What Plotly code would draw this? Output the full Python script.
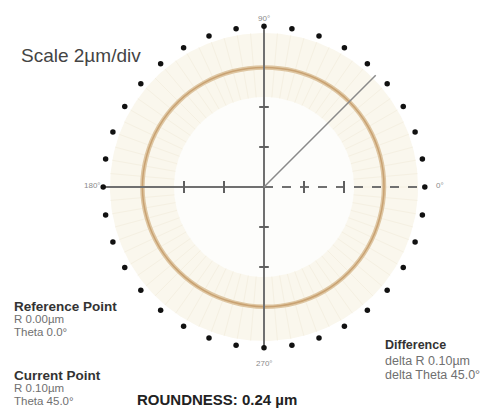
import numpy as np
import plotly.graph_objects as go

# ---- data ----
SCALE_UM_PER_DIV = 2.0
profile_theta_deg = [0, 15, 30, 45, 60, 75, 90, 105, 120, 135, 150, 165, 180,
                     195, 210, 225, 240, 255, 270, 285, 300, 315, 330, 345]
profile_r_um = [6.00, 6.01, 6.02, 6.03, 6.02, 6.00, 5.98, 5.99, 6.01, 6.04, 6.06, 6.07,
                6.08, 6.06, 6.03, 6.00, 5.98, 5.97, 5.99, 6.01, 6.02, 6.01, 6.00, 5.99]
marker_theta_deg = list(range(0, 360, 10))
marker_r_div = 4.02
axis_tick_divs = [-2, -1, 1, 2]
axis_end_labels = ["0°", "90°", "180°", "270°"]
current_theta_deg = 45.0
current_line_len_div = 3.95
band_r_div = (2.25, 3.85)

# ---- figure ----
W, H = 500, 409
CX, CY, PPU = 264, 187, 40.0
xr = [-CX / PPU, (W - CX) / PPU]
yr = [-(H - CY) / PPU, CY / PPU]

fig = go.Figure()

t = np.linspace(0, 2 * np.pi, 361)
# beige band
fig.add_trace(go.Scatter(x=band_r_div[1] * np.cos(t), y=band_r_div[1] * np.sin(t),
                         fill="toself", fillcolor="#faf7ed", line=dict(width=0),
                         mode="lines", hoverinfo="skip"))
fig.add_trace(go.Scatter(x=band_r_div[0] * np.cos(t), y=band_r_div[0] * np.sin(t),
                         fill="toself", fillcolor="#fdfdfb", line=dict(width=0),
                         mode="lines", hoverinfo="skip"))

# faint radial spokes in band
sx, sy = [], []
for a in range(0, 360, 5):
    ar = np.radians(a)
    sx += [band_r_div[0] * np.cos(ar), band_r_div[1] * np.cos(ar), None]
    sy += [band_r_div[0] * np.sin(ar), band_r_div[1] * np.sin(ar), None]
fig.add_trace(go.Scatter(x=sx, y=sy, mode="lines", line=dict(color="#f5f0e2", width=1),
                         hoverinfo="skip"))

# roundness profile
th = np.radians(profile_theta_deg + [profile_theta_deg[0]])
rr = np.array(profile_r_um + [profile_r_um[0]]) / SCALE_UM_PER_DIV
fig.add_trace(go.Scatter(x=rr * np.cos(th), y=rr * np.sin(th), mode="lines",
                         line=dict(color="#dec6a2", width=4.5, shape="spline"), hoverinfo="skip"))
fig.add_trace(go.Scatter(x=rr * np.cos(th), y=rr * np.sin(th), mode="lines",
                         line=dict(color="#c9a272", width=1.5, shape="spline"), hoverinfo="skip"))

# axes
ax_col = "#707070"
fig.add_trace(go.Scatter(x=[-marker_r_div, 0], y=[0, 0], mode="lines",
                         line=dict(color=ax_col, width=2), hoverinfo="skip"))
fig.add_trace(go.Scatter(x=[0, marker_r_div], y=[0, 0], mode="lines",
                         line=dict(color=ax_col, width=2, dash="dash"), hoverinfo="skip"))
fig.add_trace(go.Scatter(x=[0, 0], y=[-marker_r_div, marker_r_div], mode="lines",
                         line=dict(color=ax_col, width=2), hoverinfo="skip"))
tx, ty = [], []
for d in axis_tick_divs:
    tx += [d, d, None, -0.12, 0.12, None]
    ty += [-0.15, 0.15, None, d, d, None]
fig.add_trace(go.Scatter(x=tx, y=ty, mode="lines", line=dict(color="#606060", width=2),
                         hoverinfo="skip"))

# current point line
ca = np.radians(current_theta_deg)
fig.add_trace(go.Scatter(x=[0, current_line_len_div * np.cos(ca)],
                         y=[0, current_line_len_div * np.sin(ca)], mode="lines",
                         line=dict(color="#8a8a8a", width=1.5), hoverinfo="skip"))

# division markers
ma = np.radians(marker_theta_deg)
fig.add_trace(go.Scatter(x=marker_r_div * np.cos(ma), y=marker_r_div * np.sin(ma),
                         mode="markers", marker=dict(color="#111111", size=5.5),
                         hoverinfo="skip"))

# axis end labels
lab_pos = [(4.25, 0.05, "left"), (0, 4.22, "center"), (-4.3, 0.05, "center"), (0, -4.4, "center")]
for (x, y, xa), txt in zip(lab_pos, axis_end_labels):
    fig.add_annotation(x=x, y=y, text=txt, showarrow=False, xanchor=xa,
                       font=dict(size=8, color="#8a8a8a"))

FONT = "Liberation Sans, Arial, sans-serif"


def ptext(px, py, txt, size, color, bold=False):
    if bold:
        txt = "<b>" + txt + "</b>"
    fig.add_annotation(x=px / W, y=1 - py / H, xref="paper", yref="paper", text=txt,
                       showarrow=False, xanchor="left", yanchor="middle", borderpad=0,
                       font=dict(size=size, color=color, family=FONT))


ptext(20, 55, "Scale 2µm/div", 19, "#444444")
ptext(13, 306, "Reference Point", 13.5, "#333333", True)
ptext(13, 319, "R 0.00µm", 11.5, "#707070")
ptext(13, 332, "Theta 0.0°", 11.5, "#707070")
ptext(13, 375, "Current Point", 13.5, "#333333", True)
ptext(13, 388, "R 0.10µm", 11.5, "#707070")
ptext(13, 401, "Theta 45.0°", 11.5, "#707070")
ptext(136, 399, "ROUNDNESS: 0.24 µm", 15, "#222222", True)
ptext(384, 345, "Difference", 12.5, "#333333", True)
ptext(384, 361, "delta R 0.10µm", 12.5, "#707070")
ptext(384, 375, "delta Theta 45.0°", 12.5, "#707070")

fig.update_layout(width=W, height=H, margin=dict(l=0, r=0, t=0, b=0),
                  paper_bgcolor="white", plot_bgcolor="white", showlegend=False,
                  font=dict(family=FONT))
fig.update_xaxes(range=xr, visible=False, fixedrange=True)
fig.update_yaxes(range=yr, visible=False, fixedrange=True)

fig.write_html("out.html", config={"displayModeBar": False},
               post_script="document.body.style.margin='0';document.body.style.overflow='hidden';")
